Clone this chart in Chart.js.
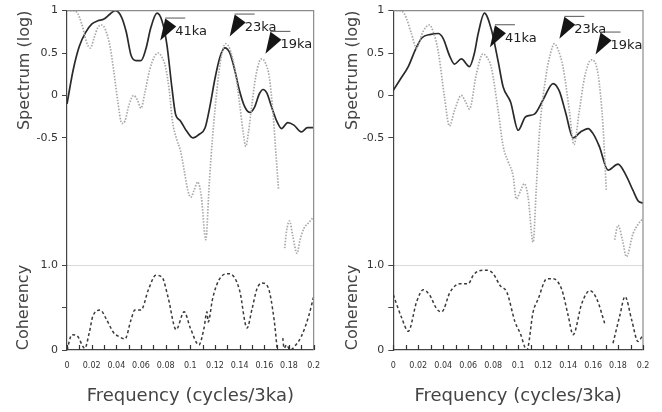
<!DOCTYPE html>
<html>
<head>
<meta charset="utf-8">
<script src="https://cdn.jsdelivr.net/npm/chart.js@4.4.0/dist/chart.umd.min.js"></script>
<style>
  body { margin: 0; background: #fff; }
  #wrap { display: flex; width: 662px; height: 412px; }
  canvas { display: block; }
</style>
</head>
<body>
<div id="wrap">
  <canvas id="left" width="331" height="412"></canvas>
  <canvas id="right" width="331" height="412"></canvas>
</div>
<script>
// tick labels
const xTickLabels = ['0', '0.02', '0.04', '0.06', '0.08', '0.1', '0.12', '0.14', '0.16', '0.18', '0.2'];
const specTickVals = [-0.5, 0, 0.5, 1];
const specTickLabels = ['-0.5', '0', '0.5', '1'];
const cohTickVals = [0, 0.5, 1];
const cohTickLabels = ['0', '', '1.0'];

// peak labels
const markLabels = ['41ka', '23ka', '19ka'];
const leftMarkFreq = [0.0756, 0.1319, 0.1609];
const leftMarkVal = [0.647, 0.694, 0.49];
const rightMarkFreq = [0.0774, 0.133, 0.162];
const rightMarkVal = [0.568, 0.667, 0.482];

// left panel, [frequency, log spectrum]
const leftSolid = [
  [0, -0.1], [0.005, 0.3], [0.01, 0.58], [0.015, 0.74], [0.02, 0.84], [0.025, 0.88], [0.03, 0.9],
  [0.035, 0.96], [0.039, 1.0], [0.044, 0.93], [0.048, 0.75], [0.052, 0.47], [0.056, 0.41], [0.06, 0.41],
  [0.064, 0.55], [0.068, 0.8], [0.073, 0.97], [0.077, 0.88], [0.081, 0.6], [0.085, 0.1], [0.088, -0.22],
  [0.092, -0.3], [0.097, -0.42], [0.102, -0.5], [0.107, -0.46], [0.112, -0.38], [0.116, -0.12], [0.12, 0.2],
  [0.124, 0.45], [0.128, 0.56], [0.132, 0.5], [0.136, 0.3], [0.14, 0.05], [0.144, -0.13], [0.148, -0.2],
  [0.152, -0.14], [0.156, 0.02], [0.159, 0.07], [0.162, 0.03], [0.166, -0.14], [0.17, -0.3], [0.174, -0.39],
  [0.179, -0.32], [0.184, -0.35], [0.19, -0.43], [0.195, -0.38], [0.2, -0.38]
];
const leftDotted = [
  [0, 1.0], [0.004, 1.0], [0.008, 0.98], [0.012, 0.84], [0.016, 0.62], [0.019, 0.56], [0.022, 0.68],
  [0.025, 0.8], [0.028, 0.83], [0.031, 0.78], [0.035, 0.57], [0.038, 0.28], [0.041, -0.05], [0.0445, -0.33],
  [0.047, -0.3], [0.0505, -0.1], [0.054, 0.0], [0.057, -0.05], [0.06, -0.15], [0.063, 0.02], [0.067, 0.3],
  [0.071, 0.46], [0.074, 0.5], [0.077, 0.45], [0.08, 0.33], [0.083, 0.05], [0.0855, -0.3], [0.089, -0.52],
  [0.092, -0.65], [0.095, -0.88], [0.098, -1.12], [0.1005, -1.2], [0.103, -1.12], [0.106, -1.02], [0.109, -1.2],
  [0.1125, -1.7], [0.1155, -1.0], [0.118, -0.5], [0.122, 0.12], [0.125, 0.45], [0.1285, 0.61], [0.132, 0.55],
  [0.136, 0.32], [0.14, -0.1], [0.143, -0.45], [0.145, -0.6], [0.147, -0.45], [0.15, -0.1], [0.153, 0.22],
  [0.156, 0.4], [0.158, 0.43], [0.161, 0.38], [0.164, 0.22], [0.167, -0.2], [0.1695, -0.7], [0.1715, -1.1],
  [0.174, null], [0.1765, -1.8], [0.178, -1.6], [0.1805, -1.48], [0.183, -1.65], [0.1865, -1.86], [0.189, -1.7],
  [0.192, -1.57], [0.196, -1.5], [0.2, -1.43]
];
const leftCoh = [
  [0, 0.0], [0.004, 0.18], [0.008, 0.17], [0.0145, 0.02], [0.018, 0.2], [0.021, 0.4], [0.027, 0.47],
  [0.032, 0.36], [0.038, 0.2], [0.042, 0.16], [0.047, 0.13], [0.052, 0.36], [0.055, 0.47], [0.06, 0.47],
  [0.066, 0.71], [0.072, 0.88], [0.077, 0.86], [0.082, 0.62], [0.0885, 0.24], [0.095, 0.45], [0.1, 0.26],
  [0.107, 0.06], [0.111, 0.25], [0.1135, 0.45], [0.1145, 0.33], [0.118, 0.6], [0.123, 0.82], [0.13, 0.9],
  [0.135, 0.87], [0.14, 0.7], [0.146, 0.26], [0.15, 0.48], [0.154, 0.72], [0.158, 0.79], [0.163, 0.74],
  [0.168, 0.35], [0.1705, 0.0], [0.173, null], [0.175, 0.14], [0.176, 0.02], [0.178, 0.06], [0.181, 0.0],
  [0.185, 0.05], [0.19, 0.16], [0.196, 0.4], [0.2, 0.63]
];

// right panel
const rightSolid = [
  [0, 0.06], [0.006, 0.2], [0.012, 0.34], [0.018, 0.55], [0.023, 0.68], [0.03, 0.72], [0.036, 0.73],
  [0.04, 0.67], [0.045, 0.47], [0.049, 0.37], [0.0545, 0.43], [0.061, 0.34], [0.065, 0.5], [0.068, 0.73],
  [0.073, 0.97], [0.0785, 0.78], [0.084, 0.4], [0.088, 0.1], [0.094, -0.08], [0.1, -0.41], [0.106, -0.25],
  [0.113, -0.22], [0.12, -0.05], [0.128, 0.14], [0.133, 0.05], [0.138, -0.2], [0.144, -0.5], [0.15, -0.43],
  [0.156, -0.39], [0.16, -0.45], [0.165, -0.6], [0.172, -0.88], [0.18, -0.81], [0.186, -0.93], [0.192, -1.12],
  [0.196, -1.24], [0.2, -1.27]
];
const rightDotted = [
  [0, 1.0], [0.004, 1.0], [0.009, 0.96], [0.0145, 0.73], [0.0185, 0.56], [0.024, 0.76], [0.029, 0.83],
  [0.032, 0.75], [0.036, 0.52], [0.041, -0.02], [0.045, -0.36], [0.049, -0.18], [0.0545, 0.0], [0.058, -0.08],
  [0.061, -0.16], [0.0665, 0.25], [0.0718, 0.49], [0.075, 0.45], [0.0785, 0.33], [0.084, -0.18], [0.088, -0.6],
  [0.092, -0.78], [0.096, -0.95], [0.0985, -1.22], [0.102, -1.12], [0.105, -1.04], [0.108, -1.2], [0.112, -1.73],
  [0.1145, -1.1], [0.117, -0.45], [0.1225, 0.25], [0.126, 0.5], [0.129, 0.61], [0.132, 0.54], [0.136, 0.33],
  [0.141, -0.18], [0.1447, -0.58], [0.149, -0.18], [0.1533, 0.22], [0.1586, 0.42], [0.164, 0.25], [0.168, -0.37],
  [0.1706, -1.12], [0.174, null], [0.1773, -1.7], [0.18, -1.53], [0.1835, -1.7], [0.1867, -1.9], [0.192, -1.63],
  [0.196, -1.52], [0.2, -1.45]
];
const rightCoh = [
  [0, 0.65], [0.0067, 0.38], [0.012, 0.22], [0.0187, 0.57], [0.024, 0.71], [0.029, 0.65], [0.035, 0.48],
  [0.0388, 0.45], [0.0454, 0.68], [0.053, 0.78], [0.06, 0.78], [0.064, 0.88], [0.068, 0.93], [0.075, 0.94],
  [0.08, 0.9], [0.0855, 0.76], [0.091, 0.68], [0.0975, 0.33], [0.1016, 0.2], [0.107, 0.0], [0.112, 0.45],
  [0.116, 0.6], [0.123, 0.84], [0.128, 0.84], [0.135, 0.71], [0.14, 0.41], [0.144, 0.18], [0.151, 0.55],
  [0.1575, 0.7], [0.163, 0.6], [0.1696, 0.3], [0.173, null], [0.176, 0.08], [0.1815, 0.41], [0.1856, 0.63],
  [0.191, 0.35], [0.196, 0.1], [0.2, 0.18]
];

Chart.defaults.font.family = '"DejaVu Sans", sans-serif';
Chart.defaults.color = '#333';

const pts = arr => arr.map(p => ({ x: p[0], y: p[1] }));

// frame, inward x ticks and the peak arrows
const framePlugin = {
  id: 'frame',
  afterDraw(chart, args, opts) {
    const { ctx, chartArea: a, scales } = chart;
    ctx.save();
    ctx.strokeStyle = '#8c8c8c';
    ctx.lineWidth = 1.2;
    ctx.beginPath();
    ctx.moveTo(a.left, a.top);
    ctx.lineTo(a.right, a.top);
    ctx.lineTo(a.right, a.bottom);
    ctx.stroke();

    ctx.strokeStyle = '#333';
    ctx.lineWidth = 1.2;
    ctx.beginPath();
    scales.x.ticks.forEach(t => {
      const px = Math.round(scales.x.getPixelForValue(t.value)) + 0.5;
      ctx.moveTo(px, a.bottom);
      ctx.lineTo(px, a.bottom - 5);
    });
    ctx.stroke();

    ctx.font = '13px "DejaVu Sans"';
    ctx.textBaseline = 'middle';
    ctx.textAlign = 'left';
    markLabels.forEach((lab, i) => {
      const tx = scales.x.getPixelForValue(opts.freq[i]);
      const ty = scales.y.getPixelForValue(opts.val[i]);
      ctx.fillStyle = '#151515';
      ctx.beginPath();
      ctx.moveTo(tx, ty);
      ctx.lineTo(tx + 5, ty - 22);
      ctx.lineTo(tx + 16, ty - 14);
      ctx.closePath();
      ctx.fill();
      ctx.strokeStyle = '#555';
      ctx.lineWidth = 1;
      ctx.beginPath();
      ctx.moveTo(tx + 5, ty - 22.5);
      ctx.lineTo(tx + 25, ty - 22.5);
      ctx.stroke();
      ctx.fillStyle = '#222';
      ctx.fillText(lab, tx + 15, ty - 9);
    });
    ctx.restore();
  }
};

function makeChart(id, solid, dotted, coh, markFreq, markVal, padLeft, padRight, axisW, titlePad) {
  return new Chart(document.getElementById(id), {
    type: 'line',
    data: {
      datasets: [
        { data: pts(dotted), yAxisID: 'y', borderColor: '#a8a8a8', borderWidth: 1.7, borderDash: [1.5, 1.5],
          pointRadius: 0, cubicInterpolationMode: 'monotone', spanGaps: false },
        { data: pts(solid), yAxisID: 'y', borderColor: '#2a2a2a', borderWidth: 1.7,
          pointRadius: 0, cubicInterpolationMode: 'monotone' },
        { data: pts(coh), yAxisID: 'y2', borderColor: '#3a3a3a', borderWidth: 1.5, borderDash: [3, 2.5],
          pointRadius: 0, cubicInterpolationMode: 'monotone', spanGaps: false }
      ]
    },
    options: {
      responsive: false,
      animation: false,
      layout: { padding: { left: padLeft, right: padRight, top: 10, bottom: 0 } },
      plugins: {
        legend: { display: false },
        tooltip: { enabled: false },
        frame: { freq: markFreq, val: markVal }
      },
      scales: {
        x: {
          type: 'linear', position: 'bottom', min: 0, max: 0.2,
          grid: { display: false, drawTicks: false },
          border: { color: '#444', width: 1.2 },
          ticks: {
            stepSize: 0.01, maxTicksLimit: 25, autoSkip: false, maxRotation: 0, padding: 11,
            font: { size: 8 }, color: '#333',
            callback: v => {
              const i = Math.round(v * 100);
              return i % 2 === 0 ? xTickLabels[i / 2] : '';
            }
          },
          title: { display: true, text: 'Frequency (cycles/3ka)', font: { size: 18 }, color: '#444',
                   padding: { top: 0, bottom: 5 } },
          afterFit: s => { s.height = 62; }
        },
        y2: {
          type: 'linear', position: 'left', stack: 'panel', stackWeight: 1, weight: 0,
          min: 0, max: 1,
          afterBuildTicks: s => { s.ticks = cohTickVals.map(v => ({ value: v })); },
          ticks: { font: { size: 11 }, color: '#333', padding: 4,
                   callback: (v, i) => cohTickLabels[i] },
          grid: {
            drawOnChartArea: true, tickLength: 5, tickColor: '#444',
            color: c => (c.tick && c.tick.value === 1 ? '#dadada' : 'rgba(0,0,0,0)')
          },
          border: { color: '#444', width: 1.2 },
          title: { display: true, text: 'Coherency', font: { size: 16 }, color: '#444',
                   padding: { top: titlePad[1] } },
          afterFit: s => { s.width = axisW; }
        },
        y: {
          type: 'linear', position: 'left', stack: 'panel', stackWeight: 3, weight: 1,
          min: -2, max: 1,
          afterBuildTicks: s => { s.ticks = specTickVals.map(v => ({ value: v })); },
          ticks: { font: { size: 11 }, color: '#333', padding: 4,
                   callback: (v, i) => specTickLabels[i] },
          grid: { drawOnChartArea: false, tickLength: 5, color: '#444' },
          border: { color: '#444', width: 1.2 },
          title: { display: true, text: 'Spectrum (log)', align: 'end', font: { size: 16 }, color: '#444',
                   padding: { top: titlePad[0] } },
          afterFit: s => { s.width = axisW; }
        }
      }
    },
    plugins: [framePlugin]
  });
}

makeChart('left', leftSolid, leftDotted, leftCoh, leftMarkFreq, leftMarkVal, 8, 16, 59, [7, 6]);
makeChart('right', rightSolid, rightDotted, rightCoh, rightMarkFreq, rightMarkVal, 4, 19, 58.3, [8, 8]);
</script>
</body>
</html>
